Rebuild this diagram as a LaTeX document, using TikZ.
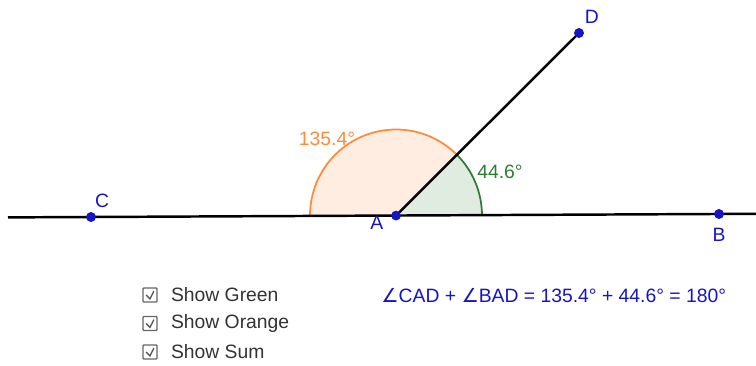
\documentclass[tikz,border=0pt]{standalone}
\usepackage{fontspec}
\setmainfont{Liberation Sans}
\newfontfamily\symfont{DejaVu Sans}
\usepackage{xcolor}
\definecolor{Point Blue}{HTML}{1515C8}
\definecolor{Text Blue}{HTML}{3535D8}
\definecolor{Arc Orange}{HTML}{FF8A3A}
\definecolor{Arc Green}{HTML}{2F7D32}
\colorlet{cBlue}{Point Blue}
\colorlet{cOrange}{Arc Orange}
\colorlet{cGreen}{Arc Green}
\usetikzlibrary{calc, positioning}
\tikzset{
	font = \fontsize{11}{13}\selectfont,
	line width = .75pt,
	point/.style={
		circle,
		fill=cBlue,
		inner sep=0pt,
		minimum size=5.5pt
	},
	ptlabel/.style={
		text=cBlue,
		inner sep=1pt
	},
	checkbox/.style={
		draw=black!60,
		line width=.8pt,
		rounded corners=.5pt,
		minimum size=.28cm,
		inner sep=0pt
	},
	tick/.style={
		draw=black!65,
		line width=.8pt
	},
	cbtext/.style={
		text=black!80,
		inner sep=0pt
	}
}

\begin{document}
\begin{tikzpicture}[x=.02cm, y=.02cm]
		\useasboundingbox (0,0) rectangle (756,365);

		\coordinate (L) at (8,147.6);
		\coordinate (R) at (756,151.2);
		\node[point] (A) at (396,149.5) {};
		\node[point] (C) at (91,148) {};
		\node[point] (B) at (719,151) {};
		\node[point] (D) at (579,332) {};

		% angle sectors
		\fill[cOrange!15] (A.center) -- ++(44.9:1.72cm) arc[start angle=44.9, end angle=180.3, radius=1.72cm] -- cycle;
		\fill[cGreen!15] (A.center) -- ++(.3:1.72cm) arc[start angle=.3, end angle=44.9, radius=1.72cm] -- cycle;
		\draw[cOrange, line width=1pt] (A.center) ++(44.9:1.72cm) arc[start angle=44.9, end angle=180.3, radius=1.72cm];
		\draw[cGreen, line width=1pt] (A.center) ++(.3:1.72cm) arc[start angle=.3, end angle=44.9, radius=1.72cm];

		\draw[line width=1.4pt] (L) -- (R);
		\draw[line width=1.4pt] (A.center) -- (D.center);

		\node[point] at (A) {};
		\node[point] at (B) {};
		\node[point] at (C) {};
		\node[point] at (D) {};

		\node[ptlabel, above right=2pt and -1pt of C] (Clab) {C};
		\node[ptlabel, below left=-3pt and 4pt of A] (Alab) {A};
		\node[ptlabel, above right=2pt and 0pt of D] (Dlab) {D};
		\node[ptlabel, below=4pt of B] (Blab) {B};

		\node[text=cOrange, inner sep=0pt] (lOrange) at (327,226) {135.4°};
		\node[text=cGreen, inner sep=0pt] (lGreen) at (500,193) {44.6°};

		\foreach \i/\y in {1/70, 2/41.5, 3/13} {
			\node[checkbox] (cb\i) at (150,\y) {};
			\draw[tick] ($(cb\i.west)!.25!(cb\i.east)$) -- ($(cb\i.south)!.25!(cb\i.north)$) -- ($(cb\i.north east)!.25!(cb\i.south west)$);
		}
		\node[cbtext, right=.26cm of cb1] {Show Green};
		\node[cbtext, right=.26cm of cb2] {Show Orange};
		\node[cbtext, right=.26cm of cb3] {Show Sum};

		\node[text=cBlue, inner sep=0pt, anchor=west] (sum) at (381,69)
			{{\symfont ∠}CAD + {\symfont ∠}BAD = 135.4° + 44.6° = 180°};
	\end{tikzpicture}
\end{document}
